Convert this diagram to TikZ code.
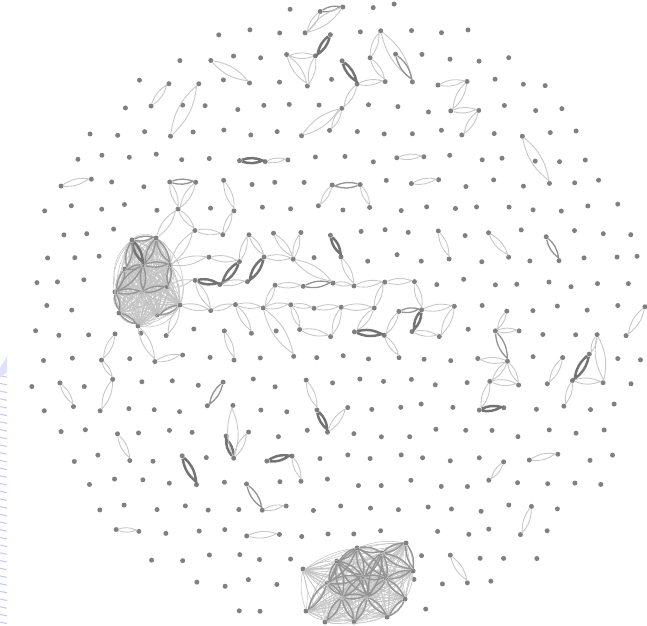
\documentclass[tikz,border=0pt]{standalone}
\usetikzlibrary{positioning}

\tikzset{
  vdot/.style={circle, fill=black!50, inner sep=0pt, minimum size=1mm},
  lightlens/.style={draw=black!22, line width=0.5pt},
  midlens/.style={draw=black!42, line width=0.75pt},
  darklens/.style={draw=black!55, line width=1.4pt},
  meshlens/.style={draw=black!24, line width=0.3pt},
  wmark/.style={draw=blue!22, line width=0.6pt}
}
\newcommand{\lensedge}[3][lightlens]{\draw[#1] (#2) to[bend left=20] (#3) to[bend left=20] (#2);}
% grid places that stay empty next to the two dense groups
\foreach \s in {4-9,5-9,3-12,14-21,11-22,10-23,10-24}{\expandafter\gdef\csname skip\s\endcsname{}}

\begin{document}
\begin{tikzpicture}[x=0.2mm, y=-0.2mm]
  \useasboundingbox (0,0) rectangle (647,626);
  % faint mark at the left edge
  \foreach \k in {0,...,33}
    \draw[wmark] (0,{368+7.7*\k}) -- ++(7,1.5);
  \fill[blue!12] (0,378) -- (0,368) -- (7,356) -- (7,372) -- cycle;

  % the disc of dots
  \pgfmathsetseed{4711}
  \foreach \j in {0,...,24}{
    \foreach \i in {0,...,23}{
      \pgfmathsetmacro\gx{20+27*\i+13.5*mod(\j,2)}
      \pgfmathsetmacro\gy{8+25*\j}
      \pgfmathtruncatemacro\inside{(((\gx-337)/100)^2+((\gy-314)/100)^2<9.8) && (((\gx-146)/100)^2+((\gy-281)/100)^2>0.2304) && (((\gx-358)/100)^2+((\gy-583)/100)^2>0.2304)}
      \ifcsname skip\i-\j\endcsname\def\inside{0}\fi
      \ifnum\inside=1
        \node[vdot] (d\i-\j) at ({\gx+4*rand},{\gy+4*rand}) {};
      \fi
    }
  }

  % left dense group
  \foreach \n/\x/\y in {1/132/240, 2/156/238, 3/143/265, 4/170/265, 5/125/269, 6/115/292,
                        7/142/292, 8/167/287, 9/180/305, 10/119/313, 11/157/315, 12/138/326}
    \node[vdot] (c\n) at (\x,\y) {};
  \foreach \a in {1,...,12}{
    \foreach \b in {\a,...,12}{
      \ifnum\a<\b
        \draw[meshlens] (c\a) to[bend left=15] (c\b) to[bend left=15] (c\a);
        \draw[meshlens] (c\a) to[bend left=35] (c\b) to[bend left=35] (c\a);
      \fi
    }
  }
  \lensedge[darklens]{c1}{c3}
  \foreach \a/\b in {1/2,2/3,3/4,3/5,3/7,5/6,6/7,7/8,4/8,3/6,9/11,1/5,2/4,10/12,6/10}
    {\lensedge[midlens]{c\a}{c\b}}

  % bottom dense group
  \foreach \n/\x/\y in {1/357/548, 2/382/553, 3/337/561, 4/406/543, 5/413/571, 6/327/583,
                        7/363/577, 8/386/579, 9/342/597, 10/367/597, 11/405/599, 12/306/611,
                        13/325/622, 14/354/622, 15/387/617, 16/303/569}
    \node[vdot] (b\n) at (\x,\y) {};
  \foreach \a in {1,...,16}{
    \foreach \b in {\a,...,16}{
      \ifnum\a<\b \draw[meshlens] (b\a) to[bend left=14] (b\b) to[bend left=14] (b\a); \fi
    }
  }
  \foreach \a/\b in {1/2,1/3,1/7,2/7,2/8,3/7,3/6,6/7,6/9,7/8,7/9,7/10,8/10,9/10,1/8,3/9,
                     2/4,8/5,10/14,9/14,10/15,8/11,6/12,9/13,2/5,4/5,11/15,1/6,2/10,3/10}
    {\lensedge[midlens]{b\a}{b\b}}

  % top
  \lensedge[midlens]{d11-0}{d12-0}
  \lensedge{d12-0}{d10-1}
  \lensedge{d11-0}{d10-1}
  \lensedge[darklens]{d11-1}{d11-2}
  \lensedge{d10-2}{d10-3}
  \lensedge{d11-2}{d10-2}
  \lensedge{d11-2}{d10-3}
  \lensedge[darklens]{d12-2}{d12-3}
  \lensedge{d13-2}{d13-1}
  \lensedge{d13-1}{d14-3}
  \lensedge[midlens]{d14-2}{d14-3}
  \lensedge{d13-2}{d13-3}
  \lensedge{d12-3}{d13-3}
  \lensedge{d12-3}{d12-4}
  \lensedge{d12-4}{d11-5}
  \lensedge{d10-5}{d12-4}
  \lensedge{d15-3}{d16-3}
  \lensedge{d16-3}{d16-4}
  \lensedge{d16-4}{d17-4}
  \lensedge{d17-4}{d16-5}

  % upper left
  \lensedge{d7-2}{d8-3}
  \lensedge{d5-4}{d5-3}
  \lensedge{d5-5}{d6-3}
  \lensedge[darklens]{d8-6}{d9-6}
  \lensedge{d9-6}{d10-6}
  \lensedge{d1-7}{d2-7}
  \lensedge[midlens]{d5-7}{d6-7}
  \lensedge{d6-7}{d6-8}
  \lensedge{d5-7}{d6-8}
  \lensedge{d7-7}{d8-8}

  % from the left group to the right
  \lensedge{c2}{d6-8}
  \lensedge{c4}{d6-9}
  \lensedge{c4}{d7-10}
  \lensedge{c8}{d6-11}
  \lensedge{c9}{d7-12}
  \lensedge{c9}{d5-13}
  \lensedge{c12}{d5-14}
  \lensedge{d6-9}{d7-9}
  \lensedge{d7-9}{d8-8}
  \lensedge{d6-8}{d6-9}
  \lensedge{d7-10}{d8-10}
  \lensedge[darklens]{d6-11}{d7-11}
  \lensedge[darklens]{d8-10}{d7-11}
  \lensedge[darklens]{d9-10}{d8-11}
  \lensedge[darklens]{d11-9}{d12-10}
  \lensedge[midlens]{d10-11}{d11-11}
  \lensedge{d7-11}{d8-11}
  \lensedge{d8-10}{d8-9}
  \lensedge{d8-9}{d9-10}
  \lensedge{d9-10}{d10-10}
  \lensedge{d10-10}{d10-9}
  \lensedge{d9-9}{d10-10}
  \lensedge{d9-11}{d10-11}
  \lensedge{d10-10}{d11-11}
  \lensedge{d11-11}{d12-11}
  \lensedge{d12-10}{d12-11}
  \lensedge{d12-11}{d13-11}
  \lensedge{d6-11}{d7-12}
  \lensedge{d9-11}{d9-12}

  % middle band
  \lensedge{d7-12}{d8-12}
  \lensedge{d8-12}{d9-12}
  \lensedge{d8-12}{d8-13}
  \lensedge{d7-13}{d8-14}
  \lensedge{d9-12}{d10-14}
  \lensedge{d9-12}{d10-12}
  \lensedge{d10-12}{d11-12}
  \lensedge{d10-12}{d10-13}
  \lensedge{d10-13}{d11-13}
  \lensedge{d11-12}{d12-12}
  \lensedge{d12-12}{d13-12}
  \lensedge{d12-12}{d11-13}
  \lensedge{d13-12}{d13-11}
  \lensedge{d13-11}{d14-11}
  \lensedge{d13-12}{d12-13}
  \lensedge[darklens]{d12-13}{d13-13}
  \lensedge{d13-13}{d14-14}
  \lensedge[midlens]{d14-12}{d15-12}
  \lensedge{d14-12}{d13-13}
  \lensedge{d14-11}{d15-12}
  \lensedge[darklens]{d15-12}{d14-13}
  \lensedge{d14-13}{d15-13}
  \lensedge{d15-12}{d16-12}
  \lensedge{d16-12}{d15-13}

  % upper right
  \lensedge{d18-5}{d19-7}
  \lensedge{d14-6}{d15-6}
  \lensedge{d14-7}{d15-7}
  \lensedge[midlens]{d12-7}{d11-7}
  \lensedge{d11-7}{d11-8}
  \lensedge{d12-7}{d13-8}
  \lensedge{d15-9}{d16-10}
  \lensedge{d17-9}{d18-10}
  \lensedge[midlens]{d19-9}{d20-10}

  % right
  \lensedge{d18-12}{d17-13}
  \lensedge{d17-13}{d18-13}
  \lensedge[midlens]{d17-13}{d18-14}
  \lensedge{d18-14}{d17-14}
  \lensedge{d18-14}{d17-15}
  \lensedge{d18-14}{d18-15}
  \lensedge{d17-15}{d18-15}
  \lensedge{d17-15}{d17-16}
  \lensedge[darklens]{d17-16}{d18-16}
  \lensedge{d21-13}{d21-15}
  \lensedge{d21-13}{d21-14}
  \lensedge{d20-14}{d19-15}
  \lensedge[darklens]{d21-14}{d20-15}
  \lensedge{d20-15}{d20-16}
  \lensedge{d20-15}{d21-15}
  \lensedge{d23-12}{d22-13}
  \lensedge{d19-18}{d20-18}
  \lensedge{d18-18}{d17-19}
  \lensedge{d19-20}{d18-21}
  \lensedge{d16-22}{d16-23}

  % lower left
  \lensedge{d3-13}{d3-14}
  \lensedge{d3-14}{d3-15}
  \lensedge{d3-15}{d3-16}
  \lensedge{d1-15}{d2-16}
  \lensedge{d5-14}{d6-14}
  \lensedge[midlens]{d7-15}{d7-16}
  \lensedge{d10-15}{d11-16}
  \lensedge[darklens]{d11-16}{d11-17}
  \lensedge{d11-17}{d12-16}
  \lensedge[darklens]{d8-18}{d7-17}
  \lensedge{d8-18}{d8-16}
  \lensedge{d8-18}{d8-17}
  \lensedge[darklens]{d6-18}{d6-19}
  \lensedge[midlens]{d8-19}{d9-20}
  \lensedge{d9-20}{d10-20}
  \lensedge[darklens]{d9-18}{d10-18}
  \lensedge{d10-18}{d10-19}
  \lensedge{d3-17}{d4-18}
  \lensedge{d8-21}{d9-21}
  \lensedge{d3-21}{d4-21}
\end{tikzpicture}
\end{document}
